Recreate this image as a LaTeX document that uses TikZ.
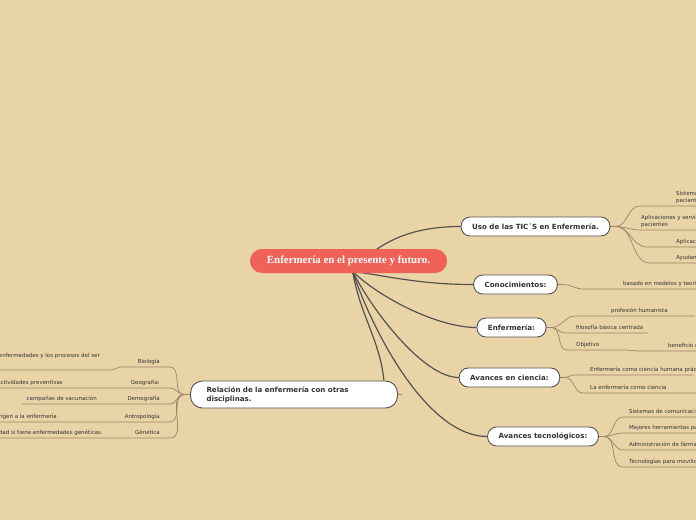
\documentclass[tikz,border=0pt]{standalone}
\usepackage{fontspec}
\setmainfont{DejaVu Sans}
\newfontfamily\rootfont{Liberation Serif}
\usepackage{tikz}

\definecolor{paper}{RGB}{233,212,168}
\definecolor{rootred}{RGB}{240,98,88}
\definecolor{linkgray}{RGB}{85,82,78}
\definecolor{twiggray}{RGB}{150,135,105}
\definecolor{ink}{RGB}{51,51,51}

\pgfdeclarelayer{paperlayer}
\pgfdeclarelayer{linklayer}
\pgfsetlayers{paperlayer,linklayer,main}

\begin{document}
\begin{tikzpicture}[
    x=1pt, y=-1pt,
    rootbox/.style={
        rectangle, rounded corners=12pt, fill=rootred, text=white,
        font=\rootfont\bfseries\fontsize{10.9}{12}\selectfont,
        minimum height=24pt, inner xsep=17pt
    },
    topic/.style={
        rectangle, rounded corners=9pt, draw=linkgray, line width=0.9pt,
        fill=white, text=ink, font=\bfseries\fontsize{7.1}{9}\selectfont,
        minimum height=19pt, inner xsep=11pt
    },
    leaf/.style={
        font=\fontsize{5.5}{6.3}\selectfont, text=ink, align=left,
        inner xsep=0pt, inner ysep=2.5pt, text height=4pt, text depth=1.3pt
    },
    link/.style={line width=1.2pt, draw=linkgray},
    twig/.style={line width=0.7pt, draw=twiggray}
]

\useasboundingbox (0,0) rectangle (696,520);
\begin{pgfonlayer}{paperlayer}
    \fill[paper] (0,0) rectangle (696,520);
\end{pgfonlayer}

% Central topic
\node[rootbox] (root) at (348.5,261) {Enfermería en el presente y futuro.};
\coordinate (hub) at ([xshift=4pt,yshift=2pt]root.south);

% Main topics
\node[topic] (tic)   at (535.5,226.5) {Uso de las TIC´S en Enfermería.};
\node[topic] (conoc) at (515.5,284.5) {Conocimientos:};
\node[topic] (enf)   at (511.5,327.5) {Enfermería:};
\node[topic] (cie)   at (509.5,377.5) {Avances en ciencia:};
\node[topic] (tec)   at (543,436.5)   {Avances tecnológicos:};
\node[topic, align=left, text width=175pt, inner xsep=16pt,
      minimum height=27pt, rounded corners=12pt] (rel) at (294,394.5)
      {Relación de la enfermería con otras\\disciplinas.};

% Subtopics, right side
\node[leaf, anchor=south west] (tic1) at (676,206) {Sistemas\\pacientes};
\node[leaf, anchor=south west] (tic2) at (641,230) {Aplicaciones y servicios\\pacientes};
\node[leaf, anchor=south west] (tic3) at (676,247) {Aplicaciones};
\node[leaf, anchor=south west] (tic4) at (676,263) {Ayudan};

\node[leaf, anchor=south west] (con1) at (623,289) {basado en modelos y teorías};

\node[leaf, anchor=south west] (enf1) at (611,316) {profesión humanista};
\node[leaf, anchor=south west] (enf2) at (576,333) {filosofía básica centrada};
\node[leaf, anchor=south west] (enf3) at (576,350) {Objetivo};
\node[leaf, anchor=south west] (enf4) at (668,351) {beneficio de};

\node[leaf, anchor=south west] (cie1) at (590,375) {Enfermería como ciencia humana práctica};
\node[leaf, anchor=south west] (cie2) at (590,393) {La enfermería como ciencia};

\node[leaf, anchor=south west] (tec1) at (629,417) {Sistemas de comunicación};
\node[leaf, anchor=south west] (tec2) at (629,433) {Mejores herramientas para};
\node[leaf, anchor=south west] (tec3) at (629,450) {Administración de fármacos};
\node[leaf, anchor=south west] (tec4) at (629,467) {Tecnologías para movilidad};

% Subtopics, left side
\node[leaf, anchor=south east] (bio)  at (160,367) {Biología};
\node[leaf, anchor=south east] (bio2) at (100,361) {enfermedades y los procesos del ser};
\node[leaf, anchor=south east] (geo)  at (160,388) {Geografía:};
\node[leaf, anchor=south east] (geo2) at (63,388)  {actividades preventivas};
\node[leaf, anchor=south east] (dem)  at (160,404) {Demografía};
\node[leaf, anchor=south east] (dem2) at (97,404)  {campañas de vacunación};
\node[leaf, anchor=south east] (ant)  at (160,422) {Antropología};
\node[leaf, anchor=south east] (ant2) at (57,422)  {origen a la enfermería};
\node[leaf, anchor=south east] (gen)  at (160,438) {Génetica};
\node[leaf, anchor=south east] (gen2) at (103,438) {dad si tiene enfermedades genéticas.};

\begin{pgfonlayer}{linklayer}
% Root to main topics
\draw[link] (hub) .. controls +(30,-35) and +(-40,0) .. (tic.west);
\draw[link] (hub) .. controls +(40,6) and +(-50,0) .. (conoc.west);
\draw[link] (hub) .. controls +(25,25) and +(-40,0) .. (enf.west);
\draw[link] (hub) .. controls +(20,40) and +(-35,0) .. (cie.west);
\draw[link] (hub) .. controls +(20,60) and +(-60,0) .. (tec.west);
\draw[link] (hub) .. controls +(8,45) and +(-4,-40) .. ([xshift=-14pt]rel.north east);
\draw[twig] (rel.east) -- ++(4,0);

% Uso de las TIC
\draw[twig] (tic.east) -- ++(5,0) to[out=0,in=180] ([xshift=-36pt]tic1.south west) -- ++(100,0);
\draw[twig] (tic.east) -- ++(5,0) to[out=0,in=180] ([xshift=-1pt]tic2.south west) -- ++(100,0);
\draw[twig] (tic.east) -- ++(5,0) to[out=0,in=180] ([xshift=-29pt]tic3.south west) -- ++(100,0);
\draw[twig] (tic.east) -- ++(5,0) to[out=0,in=180] ([xshift=-26pt]tic4.south west) -- ++(100,0);

% Conocimientos
\draw[twig] (conoc.east) -- ++(5,0) to[out=0,in=180] ([xshift=-40pt]con1.south west) -- ++(120,0);

% Enfermeria
\draw[twig] (enf.east) -- ++(5,0) to[out=0,in=180] ([xshift=-36pt]enf1.south west) -- ++(120,0);
\draw[twig] (enf.east) -- ++(5,0) to[out=0,in=180] ([xshift=-11pt]enf2.south west) -- ([xshift=4pt]enf2.south east);
\draw[twig] (enf.east) -- ++(5,0) to[out=0,in=180] ([xshift=-9pt]enf3.south west) -- ([xshift=25pt]enf3.south east)
    to[out=0,in=180] ([xshift=-28pt]enf4.south west) -- ++(60,0);

% Avances en ciencia
\draw[twig] (cie.east) -- ++(5,0) to[out=0,in=180] ([xshift=-17pt]cie1.south west) -- ++(120,0);
\draw[twig] (cie.east) -- ++(5,0) to[out=0,in=180] ([xshift=-7pt]cie2.south west) -- ++(120,0);

% Avances tecnologicos
\foreach \n in {tec1,tec2,tec3,tec4}
    \draw[twig] (tec.east) -- ++(5,0) to[out=0,in=180] ([xshift=-6pt]\n.south west) -- ++(90,0);

% Relacion con otras disciplinas
\draw[twig] (rel.west) -- ++(-6,0) to[out=180,in=0] ([xshift=10pt]bio.south east) -- ([xshift=-18pt]bio.south west)
    to[out=180,in=0] ([xshift=12pt,yshift=-9pt]bio2.south east) -- ++(-150,0);
\draw[twig] (rel.west) -- ++(-6,0) to[out=180,in=0] ([xshift=10pt]geo.south east) -- (geo2.south west) -- ++(-20,0);
\draw[twig] (rel.west) -- ++(-6,0) to[out=180,in=0] ([xshift=10pt]dem.south east) -- ([xshift=-5pt]dem2.south west);
\draw[twig] (rel.west) -- ++(-6,0) to[out=180,in=0] ([xshift=10pt]ant.south east) -- (ant2.south west) -- ++(-20,0);
\draw[twig] (rel.west) -- ++(-6,0) to[out=180,in=0] ([xshift=10pt]gen.south east) -- (gen2.south west) -- ++(-20,0);
\end{pgfonlayer}

\end{tikzpicture}
\end{document}
